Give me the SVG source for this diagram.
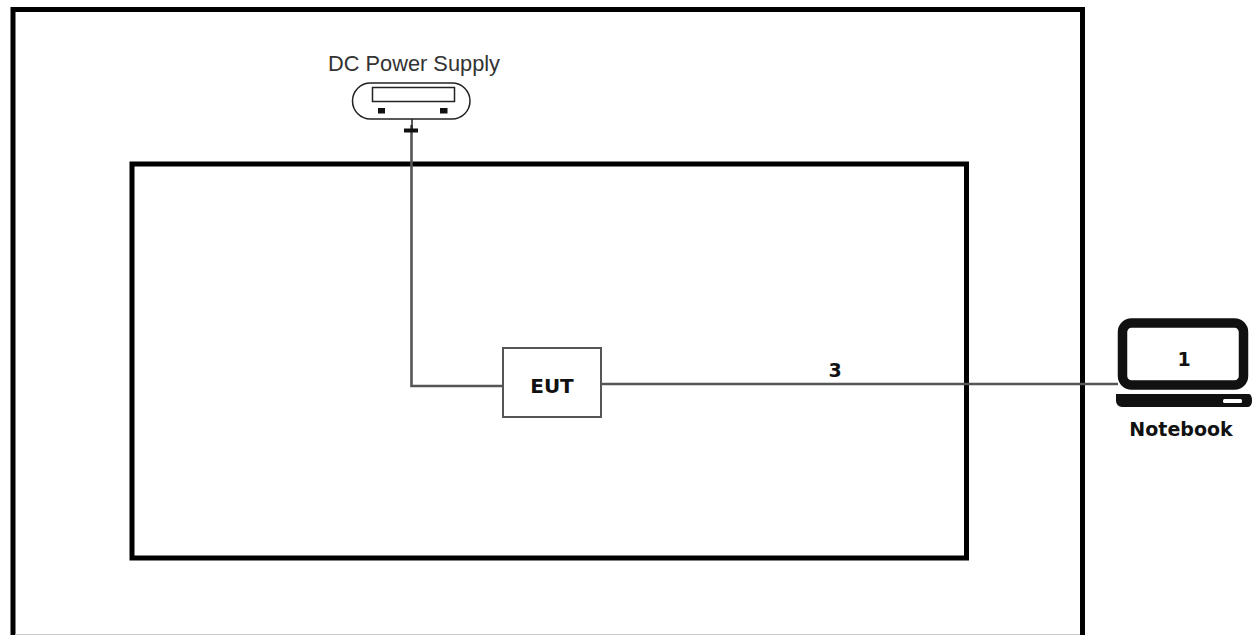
<svg xmlns="http://www.w3.org/2000/svg" width="1258" height="635" viewBox="0 0 1258 635">
<style>
.box{fill:none;stroke:#000;stroke-width:5}
.wire{fill:none;stroke:#555;stroke-width:2.6}
.lbl{font-family:"DejaVu Sans",sans-serif;font-weight:700;font-size:19px;fill:#111;text-anchor:middle}
.thin{font-family:"Liberation Sans",Arial,sans-serif;font-size:21.8px;fill:#333;text-anchor:middle}
</style>
<rect width="1258" height="635" fill="#fff"/>
<g id="chamber"><path class="box" d="M13 635V9.5H1082.500V635"/><path d="M15 634.500H1080" stroke="#ccc" stroke-width="1"/></g>
<g id="table"><rect class="box" x="132" y="164" width="834.500" height="394"/></g>
<g id="connectors">
<path class="wire" d="M411.500 125V386H503"/>
<path class="wire" d="M601 384H1118"/>
<path d="M412 119V130" stroke="#222" stroke-width="1.500" fill="none"/>
<path d="M404 130.500H418" stroke="#111" stroke-width="4" fill="none"/>
</g>
<g id="power-supply">
<text class="thin" x="414" y="71">DC Power Supply</text>
<rect x="352.500" y="83" width="117.500" height="36" rx="18" fill="#fff" stroke="#222" stroke-width="1.500"/>
<rect x="372.500" y="87.500" width="82" height="14" fill="#fff" stroke="#222" stroke-width="1.500"/>
<rect x="378" y="108" width="7" height="5.500" fill="#111"/>
<rect x="440" y="108" width="7.500" height="5.500" fill="#111"/>
</g>
<g id="eut">
<rect x="503" y="348" width="98" height="69" fill="#fff" stroke="#555" stroke-width="2"/>
<text class="lbl" x="552" y="393" style="font-size:20px">EUT</text>
</g>
<text class="lbl" x="835" y="377">3</text>
<g id="notebook">
<rect x="1122.500" y="323" width="121" height="62" rx="9" fill="#fff" stroke="#111" stroke-width="9.500"/>
<text class="lbl" x="1184" y="366">1</text>
<path d="M1116 394H1249a3 6 0 0 1 3 6.500a4 6 0 0 1-4 6.500H1122a6 6 0 0 1-6-6Z" fill="#111"/>
<rect x="1223" y="399" width="19" height="4" rx="1.500" fill="#fff"/>
<text class="lbl" x="1181" y="436">Notebook</text>
</g>
</svg>
